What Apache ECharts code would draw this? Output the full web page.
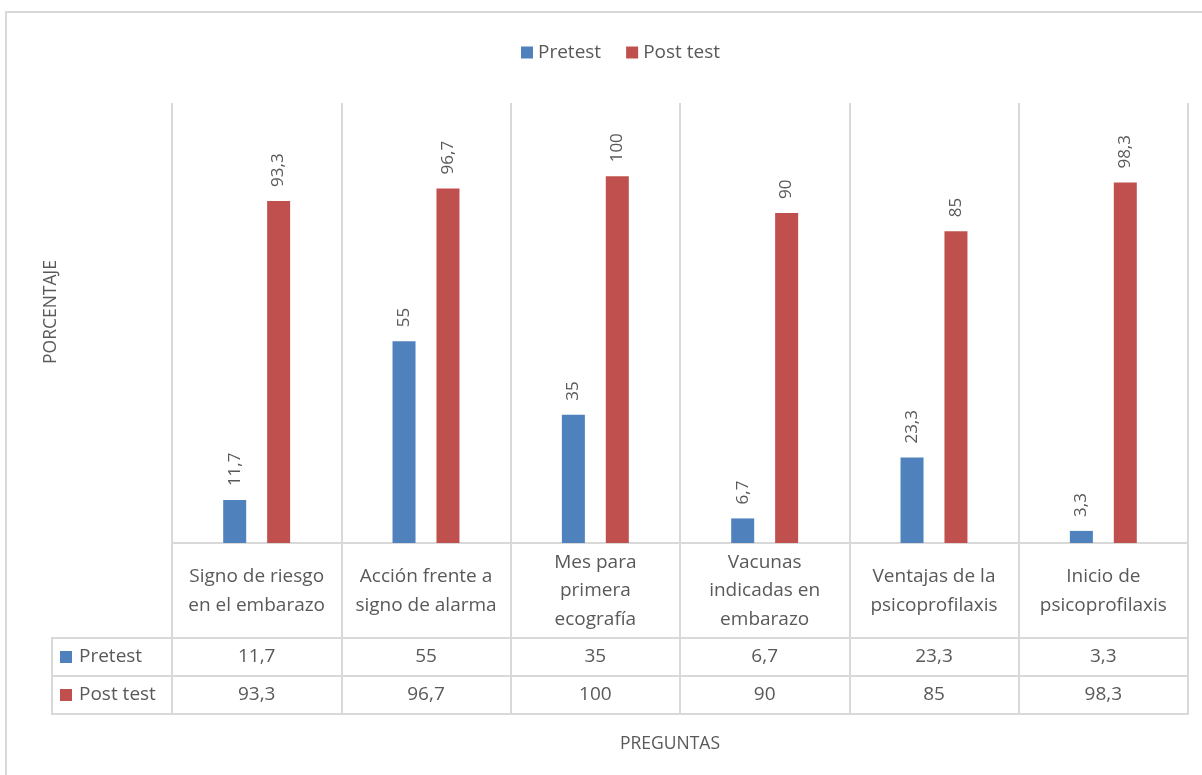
<!DOCTYPE html>
<html>
<head>
<meta charset="utf-8">
<script src="https://cdn.jsdelivr.net/npm/echarts@6/dist/echarts.min.js"></script>
<style>
html,body{margin:0;padding:0;background:#fff;}
#chart{width:1202px;height:775px;}
</style>
</head>
<body>
<div id="chart"></div>
<script>
var categories = [
  'Signo de riesgo\nen el embarazo',
  'Acción frente a\nsigno de alarma',
  'Mes para\nprimera\necografía',
  'Vacunas\nindicadas en\nembarazo',
  'Ventajas de la\npsicoprofilaxis',
  'Inicio de\npsicoprofilaxis'
];
var pretest = [11.7, 55, 35, 6.7, 23.3, 3.3];
var posttest = [93.3, 96.7, 100, 90, 85, 98.3];
var seriesNames = ['Pretest', 'Post test'];
var colors = ['#4f81bd', '#c0504d'];

var FONT = 'Open Sans';
var TXT = '#595959';
var LINE = '#d9d9d9';
var FS = 19;
function fmt(v){ return String(v).replace('.', ','); }

var chart = echarts.init(document.getElementById('chart'));
var tableAxis = function(offset, values, showName){
  return {
    type: 'category', data: categories, position: 'bottom', offset: offset,
    axisLine: {show: true, lineStyle: {color: LINE, width: 2}},
    axisTick: {show: false},
    splitLine: {show: false},
    axisLabel: values ? {
      interval: 0, margin: 19, verticalAlign: 'middle',
      fontFamily: FONT, fontSize: FS, color: TXT,
      formatter: function(v, i){ return fmt(values[i]); }
    } : {show: false},
    name: showName ? 'PREGUNTAS' : '',
    nameLocation: 'middle', nameGap: 21,
    nameTextStyle: {fontFamily: FONT, fontSize: 17.5, color: TXT, padding: [0, 20, 0, 0]}
  };
};

var barLabel = {
  show: true, position: 'top', rotate: 90, align: 'left', verticalAlign: 'middle',
  distance: 14, fontFamily: FONT, fontSize: 17, color: TXT,
  formatter: function(p){ return fmt(p.value); }
};

var option = {
  backgroundColor: '#fff',
  animation: false,
  color: colors,
  legend: {
    top: 38, left: 516,
    icon: 'rect', itemWidth: 12, itemHeight: 12, itemGap: 25,
    textStyle: {fontFamily: FONT, fontSize: FS, color: TXT},
    data: seriesNames
  },
  grid: {left: 172, right: 14, top: 103, bottom: 232, containLabel: false},
  xAxis: [
    {
      type: 'category', data: categories, position: 'bottom',
      axisLine: {show: true, lineStyle: {color: LINE, width: 2}},
      axisTick: {show: true, length: 171, lineStyle: {color: LINE, width: 2}},
      splitLine: {show: true, lineStyle: {color: LINE, width: 2}},
      axisLabel: {
        interval: 0, margin: 48, verticalAlign: 'middle', lineHeight: 28.5,
        fontFamily: FONT, fontSize: FS, color: TXT
      }
    },
    tableAxis(95, pretest, false),
    tableAxis(133, posttest, false),
    tableAxis(171, null, true)
  ],
  yAxis: {
    type: 'value', min: 0, max: 120,
    axisLine: {show: false}, axisTick: {show: false},
    axisLabel: {show: false}, splitLine: {show: false},
    name: 'PORCENTAJE', nameLocation: 'middle', nameGap: 112,
    nameTextStyle: {fontFamily: FONT, fontSize: 17.5, color: TXT, padding: [0, 0, 0, 22]}
  },
  series: [
    {name: seriesNames[0], type: 'bar', data: pretest, barWidth: 23, barGap: '91%', label: barLabel},
    {name: seriesNames[1], type: 'bar', data: posttest, barWidth: 23, barGap: '91%', label: barLabel}
  ],
  graphic: [
    {type: 'rect', shape: {x: 6, y: 12, width: 1220, height: 800}, style: {fill: 'none', stroke: LINE, lineWidth: 2}, z: -10},
    {type: 'line', shape: {x1: 52, y1: 638, x2: 172, y2: 638}, style: {stroke: LINE, lineWidth: 2}},
    {type: 'line', shape: {x1: 52, y1: 676, x2: 172, y2: 676}, style: {stroke: LINE, lineWidth: 2}},
    {type: 'line', shape: {x1: 52, y1: 714, x2: 172, y2: 714}, style: {stroke: LINE, lineWidth: 2}},
    {type: 'line', shape: {x1: 52, y1: 637, x2: 52, y2: 715}, style: {stroke: LINE, lineWidth: 2}},
    {type: 'rect', shape: {x: 60, y: 651, width: 12, height: 12}, style: {fill: colors[0]}},
    {type: 'rect', shape: {x: 60, y: 689, width: 12, height: 12}, style: {fill: colors[1]}},
    {type: 'text', x: 79, y: 657, style: {text: seriesNames[0], fontFamily: FONT, fontSize: FS, fill: TXT, verticalAlign: 'middle'}},
    {type: 'text', x: 79, y: 695, style: {text: seriesNames[1], fontFamily: FONT, fontSize: FS, fill: TXT, verticalAlign: 'middle'}}
  ]
};
chart.setOption(option);
</script>
</body>
</html>
